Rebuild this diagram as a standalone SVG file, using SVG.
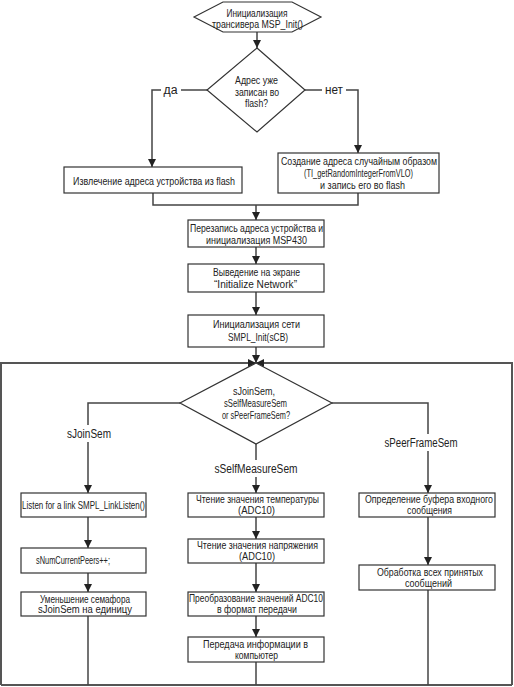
<svg xmlns="http://www.w3.org/2000/svg" width="514" height="687" viewBox="0 0 514 687">
<defs>
<marker id="ah" markerUnits="userSpaceOnUse" markerWidth="8" markerHeight="8" refX="8" refY="4" orient="auto">
<path d="M0,0 L8,4 L0,8 z" fill="#222"/>
</marker>
<style>
.b{fill:#fff;stroke:#333;stroke-width:1.2}
.c{fill:none;stroke:#444;stroke-width:1.5}
.f{stroke:#555;stroke-width:2;fill:none}
text{font-family:"Liberation Sans Narrow","Liberation Sans",Arial,sans-serif;fill:#222;text-anchor:middle}
.t{font-size:11px}
.s{font-size:10px}
.d{font-size:10.5px}
.l{font-size:12.5px}
</style>
</defs>
<rect width="514" height="687" fill="#fff"/>

<g id="connectors">
<line class="c" x1="257" y1="32" x2="257" y2="48" marker-end="url(#ah)"/>
<polyline class="c" points="207,90 181,90"/>
<polyline class="c" points="161,90 152,90 152,167" marker-end="url(#ah)"/>
<polyline class="c" points="305,90 322,90"/>
<polyline class="c" points="346,90 358,90 358,153" marker-end="url(#ah)"/>
<polyline class="c" points="153,193 153,205 358,205 358,193"/>
<line class="c" x1="256" y1="205" x2="256" y2="220" marker-end="url(#ah)"/>
<line class="c" x1="256" y1="247" x2="256" y2="264" marker-end="url(#ah)"/>
<line class="c" x1="256" y1="292" x2="256" y2="315" marker-end="url(#ah)"/>
<line class="c" x1="256" y1="347" x2="256" y2="363" marker-end="url(#ah)"/>
<polyline class="f" points="1,685 1,363 256,363" marker-end="url(#ah)"/>
<polyline class="f" points="512,685 512,363 256,363" marker-end="url(#ah)"/>
<line class="f" x1="1" y1="685" x2="512" y2="685"/>
<polyline class="c" points="180,403 88,403 88,425"/>
<line class="c" x1="88" y1="442" x2="88" y2="493" marker-end="url(#ah)"/>
<line class="c" x1="256" y1="444" x2="256" y2="460"/>
<line class="c" x1="256" y1="477" x2="256" y2="493" marker-end="url(#ah)"/>
<polyline class="c" points="332,403 428,403 428,434"/>
<line class="c" x1="428" y1="451" x2="428" y2="493" marker-end="url(#ah)"/>
<line class="c" x1="88" y1="517" x2="88" y2="548" marker-end="url(#ah)"/>
<line class="c" x1="88" y1="573" x2="88" y2="592" marker-end="url(#ah)"/>
<line class="c" x1="88" y1="616" x2="88" y2="685"/>
<line class="c" x1="256" y1="517" x2="256" y2="539" marker-end="url(#ah)"/>
<line class="c" x1="256" y1="563" x2="256" y2="592" marker-end="url(#ah)"/>
<line class="c" x1="256" y1="616" x2="256" y2="637" marker-end="url(#ah)"/>
<line class="c" x1="256" y1="662" x2="256" y2="685"/>
<line class="c" x1="428" y1="517" x2="428" y2="565" marker-end="url(#ah)"/>
<line class="c" x1="428" y1="590" x2="428" y2="685"/>
<text class="l" x="170.5" y="94" textLength="14" lengthAdjust="spacingAndGlyphs">да</text>
<text class="l" x="334" y="94" textLength="18" lengthAdjust="spacingAndGlyphs">нет</text>
<text class="l" x="89" y="437.5" textLength="44" lengthAdjust="spacingAndGlyphs">sJoinSem</text>
<text class="l" x="256" y="472.5" textLength="83" lengthAdjust="spacingAndGlyphs">sSelfMeasureSem</text>
<text class="l" x="421" y="446.5" textLength="73" lengthAdjust="spacingAndGlyphs">sPeerFrameSem</text>
</g>

<g id="start">
<polygon class="b" points="194,17 223,2 292,2 321,17 292,32 223,32"/>
<text class="t" x="257" y="16.5" textLength="61" lengthAdjust="spacingAndGlyphs">Инициализация</text>
<text class="t" x="257.5" y="27.5" textLength="91" lengthAdjust="spacingAndGlyphs">трансивера MSP_Init()</text>
</g>

<g id="dec-flash">
<polygon class="b" points="257,48 305,90 257,132 207,90"/>
<text class="t" x="256.5" y="84" textLength="43" lengthAdjust="spacingAndGlyphs">Адрес уже</text>
<text class="t" x="257" y="96" textLength="44" lengthAdjust="spacingAndGlyphs">записан во</text>
<text class="t" x="256.5" y="107" textLength="23" lengthAdjust="spacingAndGlyphs">flash?</text>
</g>

<g id="extract">
<rect class="b" x="64" y="167" width="178" height="26"/>
<text class="t" x="154" y="185" textLength="162" lengthAdjust="spacingAndGlyphs">Извлечение адреса устройства из flash</text>
</g>

<g id="create">
<rect class="b" x="278" y="153" width="161" height="40"/>
<text class="t" x="359" y="164.5" textLength="156" lengthAdjust="spacingAndGlyphs">Создание адреса случайным образом</text>
<text class="t" x="358.5" y="177" textLength="109" lengthAdjust="spacingAndGlyphs">(TI_getRandomIntegerFromVLO)</text>
<text class="t" x="362.5" y="188.5" textLength="85" lengthAdjust="spacingAndGlyphs">и запись его во flash</text>
</g>

<g id="rewrite">
<rect class="b" x="188" y="220" width="136" height="27"/>
<text class="t" x="256.5" y="232" textLength="133" lengthAdjust="spacingAndGlyphs">Перезапись адреса устройства и</text>
<text class="t" x="256.5" y="243.5" textLength="101" lengthAdjust="spacingAndGlyphs">инициализация MSP430</text>
</g>

<g id="display">
<rect class="b" x="188" y="264" width="136" height="28"/>
<text class="t" x="256.5" y="276" textLength="87" lengthAdjust="spacingAndGlyphs">Выведение на экране</text>
<text class="t" x="255.5" y="288" textLength="83" lengthAdjust="spacingAndGlyphs">“Initialize Network”</text>
</g>

<g id="netinit">
<rect class="b" x="188" y="315" width="136" height="32"/>
<text class="t" x="256.5" y="328" textLength="87" lengthAdjust="spacingAndGlyphs">Инициализация сети</text>
<text class="t" x="258" y="341" textLength="60" lengthAdjust="spacingAndGlyphs">SMPL_Init(sCB)</text>
</g>

<g id="dec-sem">
<polygon class="b" points="256,363 332,403 256,444 180,403"/>
<text class="d" x="254" y="395" textLength="42" lengthAdjust="spacingAndGlyphs">sJoinSem,</text>
<text class="d" x="255.5" y="407" textLength="63" lengthAdjust="spacingAndGlyphs">sSelfMeasureSem</text>
<text class="d" x="256" y="419" textLength="68" lengthAdjust="spacingAndGlyphs">or sPeerFrameSem?</text>
</g>

<g id="listen">
<rect class="b" x="21" y="493" width="125" height="24"/>
<text class="t" x="83.5" y="509" textLength="123" lengthAdjust="spacingAndGlyphs">Listen for a link SMPL_LinkListen()</text>
</g>

<g id="peers">
<rect class="b" x="21" y="548" width="125" height="25"/>
<text class="t" x="73" y="564" textLength="74" lengthAdjust="spacingAndGlyphs">sNumCurrentPeers++;</text>
</g>

<g id="decsem">
<rect class="b" x="21" y="592" width="125" height="24"/>
<text class="s" x="85" y="602.5" textLength="90" lengthAdjust="spacingAndGlyphs">Уменьшение семафора</text>
<text class="s" x="85" y="612.5" textLength="94" lengthAdjust="spacingAndGlyphs">sJoinSem на единицу</text>
</g>

<g id="temp">
<rect class="b" x="188" y="493" width="136" height="24"/>
<text class="s" x="257.5" y="502.5" textLength="123" lengthAdjust="spacingAndGlyphs">Чтение значения температуры</text>
<text class="s" x="256.5" y="514" textLength="37" lengthAdjust="spacingAndGlyphs">(ADC10)</text>
</g>

<g id="volt">
<rect class="b" x="188" y="539" width="136" height="24"/>
<text class="s" x="257.5" y="549" textLength="121" lengthAdjust="spacingAndGlyphs">Чтение значения напряжения</text>
<text class="s" x="257" y="560" textLength="36" lengthAdjust="spacingAndGlyphs">(ADC10)</text>
</g>

<g id="convert">
<rect class="b" x="188" y="592" width="136" height="24"/>
<text class="s" x="256" y="602" textLength="134" lengthAdjust="spacingAndGlyphs">Преобразование значений ADC10</text>
<text class="s" x="257" y="612.5" textLength="80" lengthAdjust="spacingAndGlyphs">в формат передачи</text>
</g>

<g id="send">
<rect class="b" x="188" y="637" width="136" height="25"/>
<text class="s" x="255.5" y="647.5" textLength="105" lengthAdjust="spacingAndGlyphs">Передача информации в</text>
<text class="s" x="256.5" y="658.5" textLength="43" lengthAdjust="spacingAndGlyphs">компьютер</text>
</g>

<g id="buffer">
<rect class="b" x="359" y="493" width="136" height="24"/>
<text class="s" x="429" y="502.5" textLength="128" lengthAdjust="spacingAndGlyphs">Определение буфера входного</text>
<text class="s" x="429.5" y="514" textLength="45" lengthAdjust="spacingAndGlyphs">сообщения</text>
</g>

<g id="process">
<rect class="b" x="359" y="565" width="136" height="25"/>
<text class="s" x="430" y="575.5" textLength="106" lengthAdjust="spacingAndGlyphs">Обработка всех принятых</text>
<text class="s" x="428.5" y="586.5" textLength="47" lengthAdjust="spacingAndGlyphs">сообщений</text>
</g>
</svg>
